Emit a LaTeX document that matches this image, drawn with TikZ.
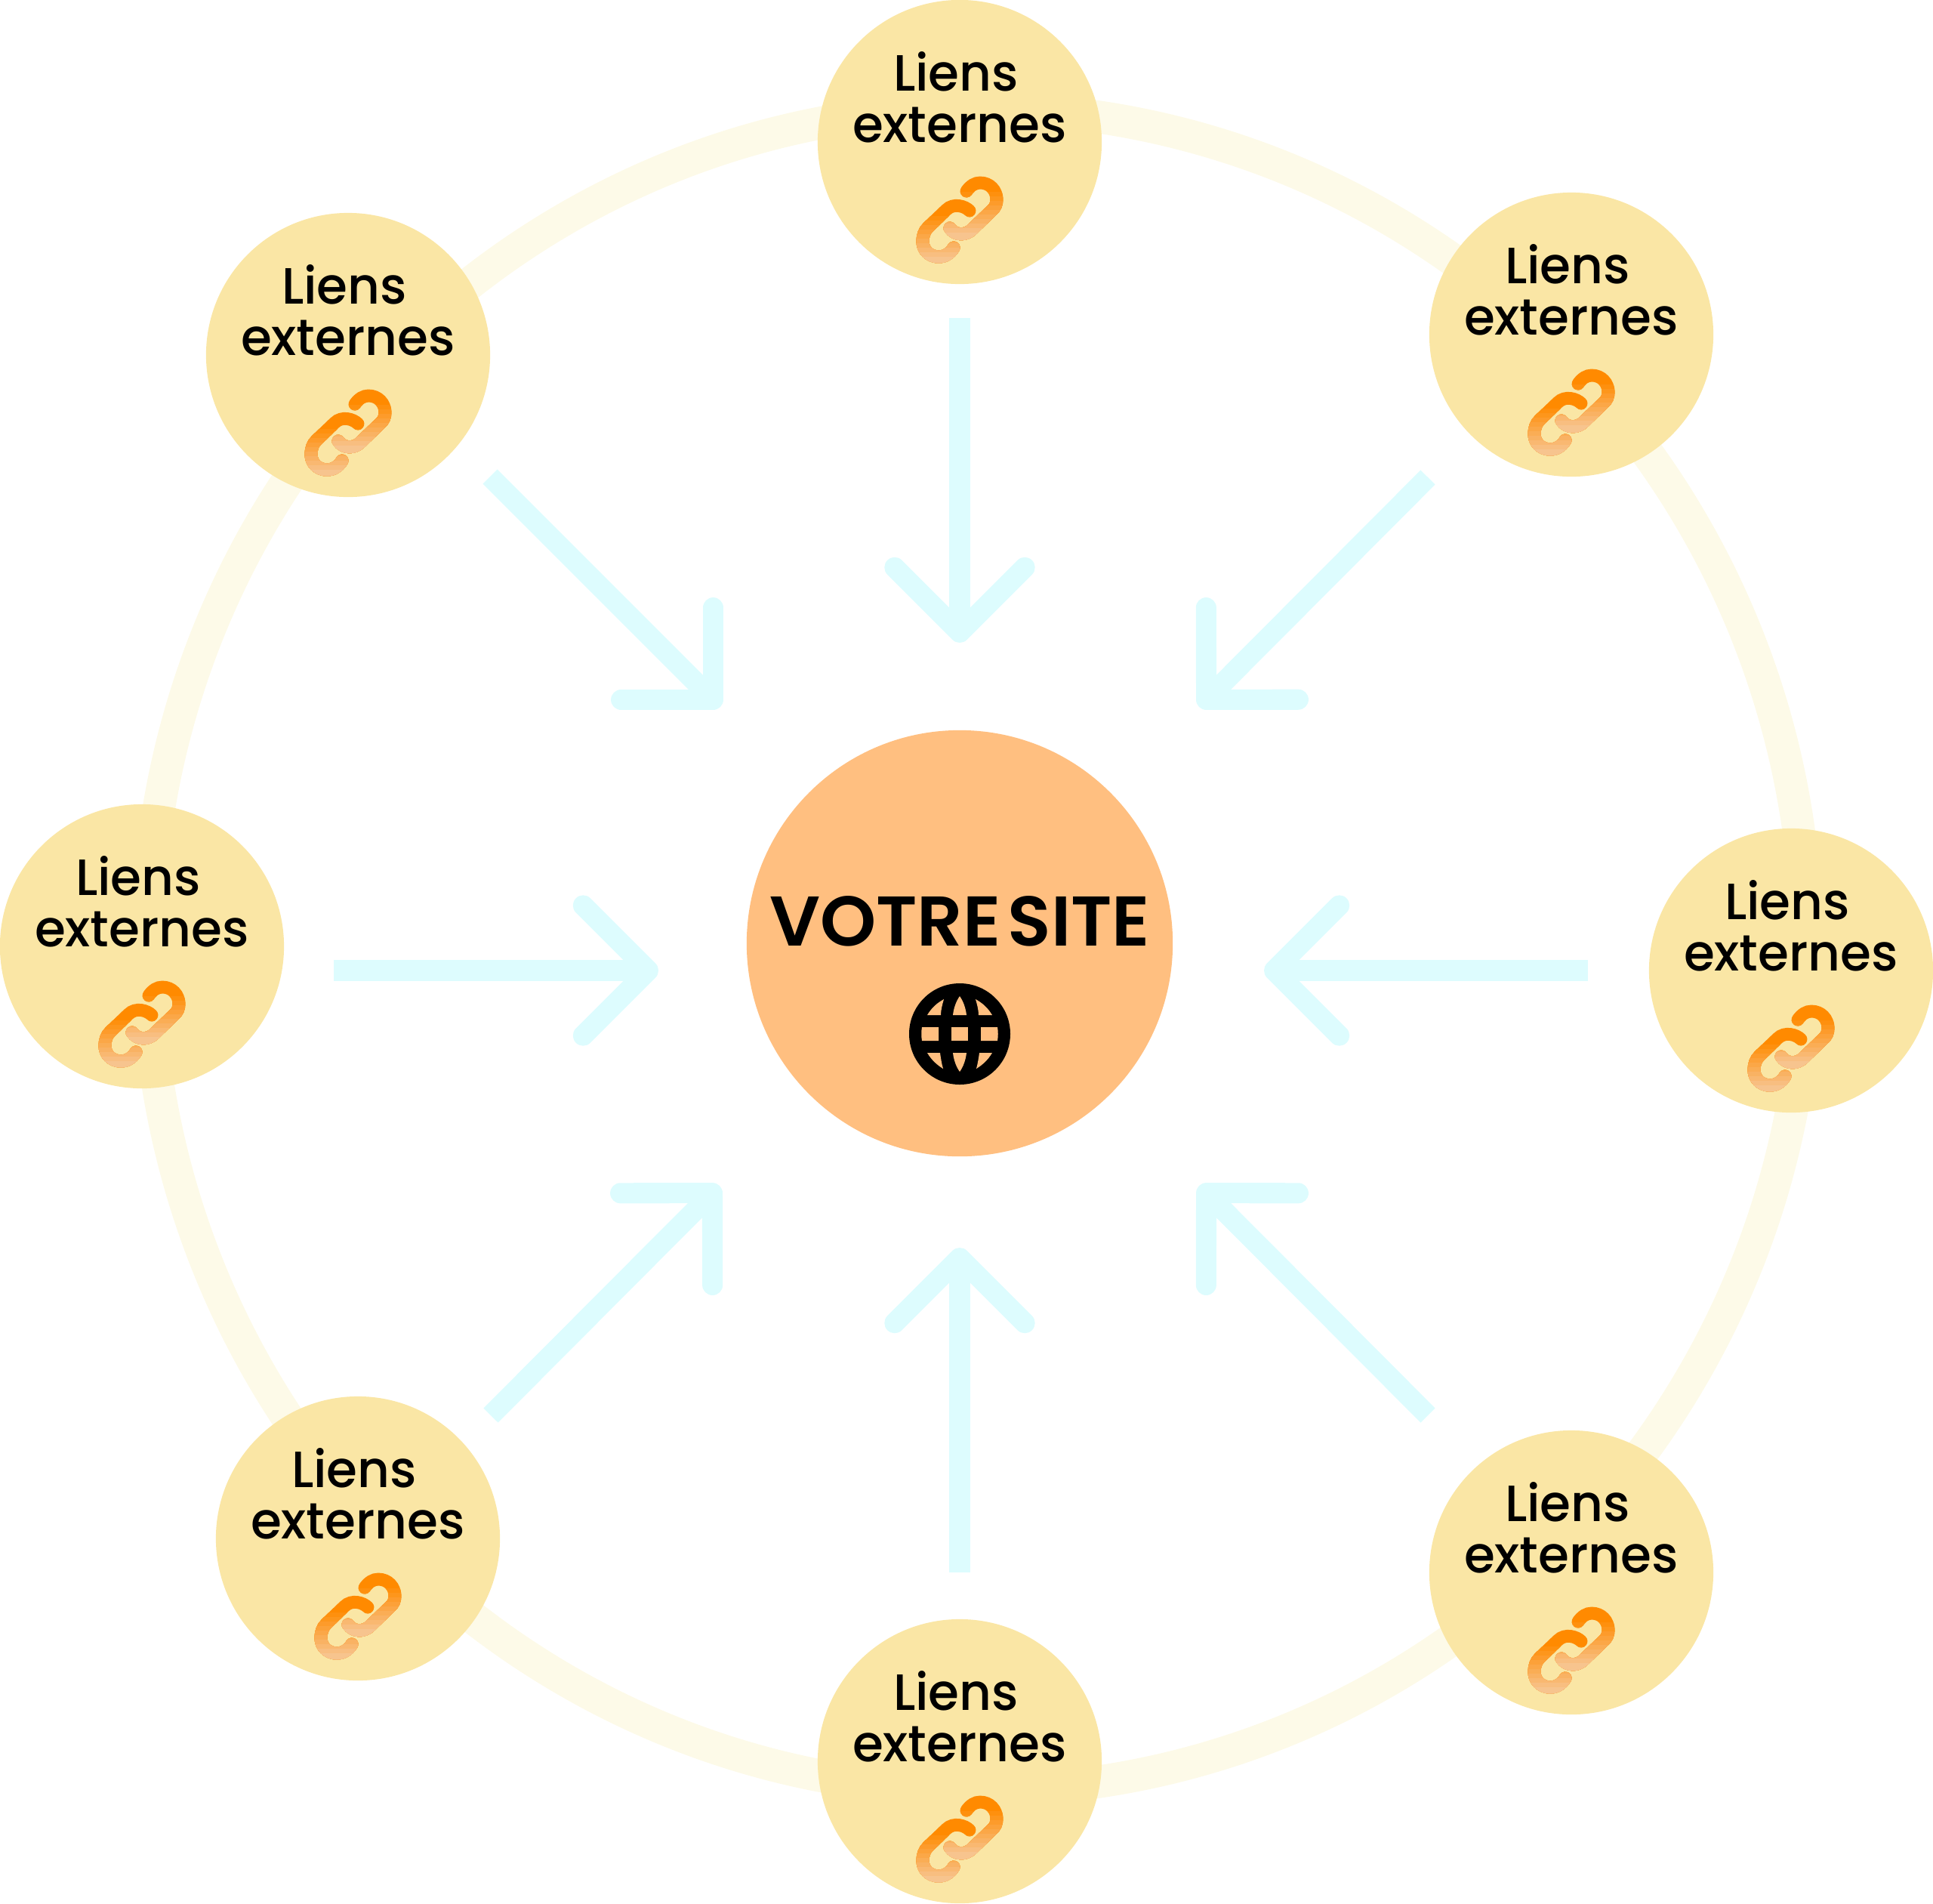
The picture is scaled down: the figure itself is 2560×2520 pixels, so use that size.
\documentclass[tikz,border=0pt]{standalone}
\usepackage{fontspec}
\setmainfont{Poppins}[UprightFont=* Medium,UprightFeatures={FakeStretch=0.98},BoldFont=* SemiBold,BoldFeatures={FakeStretch=1.012}]
\usetikzlibrary{arrows.meta}
\definecolor{ringyellow}{HTML}{FDFAE8}
\definecolor{satyellow}{HTML}{FAE6A5}
\definecolor{siteorange}{HTML}{FFBF80}
\definecolor{arrowcyan}{HTML}{DDFCFE}
\definecolor{linkorange}{HTML}{FF8A00}
\definecolor{linkpale}{HTML}{F7C48E}
\tikzset{
  satnode/.style={circle, fill=satyellow, minimum size=3.76cm, inner sep=0pt},
  sitenode/.style={circle, fill=siteorange, minimum size=5.64cm, inner sep=0pt},
  satlabel/.style={align=center, inner sep=0pt, font=\fontsize{19.2}{19.3}\selectfont},
  sitelabel/.style={inner sep=0pt, font=\fontsize{26.5}{27}\selectfont\bfseries},
  inarrow/.style={arrowcyan, line width=7.7pt, -{Straight Barb[length=24.5pt, width=49pt, round]}},
  linkstroke/.style={line width=4.8pt, line cap=round}
}
% one link of the chain, painted in bands from top to bottom
\newcommand{\linkbands}[2]{%
  \draw[linkstroke, linkorange] #2;
  \foreach \k [evaluate=\k as \p using 100-10*\k] in {1,...,10}{
    \begin{scope}
      \clip (-80,#1+6*\k) rectangle (80,200);
      \draw[linkstroke, linkorange!\p!linkpale] #2;
    \end{scope}
  }}
\newcommand{\chainicon}[2]{%
  \begin{scope}[shift={(#1,#2)}]
    \linkbands{60}{(9,65) .. controls (14,58) and (20,54) .. (27,54) .. controls (40,54) and (49,64) .. (49,76) .. controls (49,82) and (47,87) .. (42,91) -- (16,116) .. controls (8,124) and (-6,124) .. (-13,114)}
    \linkbands{92}{(13,91) .. controls (7,85) and (-8,80) .. (-18,90) -- (-42,113) .. controls (-47,118) and (-49,124) .. (-49,132) .. controls (-49,143) and (-40,152) .. (-28,152) .. controls (-20,152) and (-13,148) .. (-8,140)}
  \end{scope}}
\newcommand{\lienstext}{Liens\kern 2.8pt\\externes}
\begin{document}
\begin{tikzpicture}[x=0.01cm,y=-0.01cm]
\useasboundingbox (0,0) rectangle (2560,2520);
% ring behind everything
\draw[ringyellow, line width=12.3pt] (1294,1257) ellipse [x radius=1099, y radius=1114];
% centre
\node[sitenode] (site) at (1271,1249) {};
\node[sitelabel] (sitetext) at (1271,1220) {VOTRE\kern-3.7pt\ SITE};
\fill (1271,1369) circle [radius=67];
\begin{scope}[shift={(1271,1369)}]
\fill[siteorange] (-11,-9) rectangle (11,9);
\fill[siteorange] (-50,-9) .. controls (-51,-3) and (-51,3) .. (-50,9) -- (-28,9) -- (-28,-9) -- cycle;
\fill[siteorange] (50,-9) .. controls (51,-3) and (51,3) .. (50,9) -- (28,9) -- (28,-9) -- cycle;
\fill[siteorange] (0,-50) .. controls (5,-43) and (8,-34) .. (9,-25) -- (-9,-25) .. controls (-8,-34) and (-5,-43) .. (0,-50) -- cycle;
\fill[siteorange] (0,50) .. controls (5,43) and (8,34) .. (9,25) -- (-9,25) .. controls (-8,34) and (-5,43) .. (0,50) -- cycle;
\fill[siteorange] (-43,-25) .. controls (-37,-35) and (-30,-41) .. (-21,-46) .. controls (-23,-39) and (-25,-32) .. (-25,-25) -- cycle;
\fill[siteorange] (43,-25) .. controls (37,-35) and (30,-41) .. (21,-46) .. controls (23,-39) and (25,-32) .. (25,-25) -- cycle;
\fill[siteorange] (-43,25) .. controls (-37,35) and (-30,41) .. (-22,46) .. controls (-24,39) and (-25,32) .. (-26,25) -- cycle;
\fill[siteorange] (43,25) .. controls (37,35) and (30,41) .. (22,46) .. controls (24,39) and (25,32) .. (26,25) -- cycle;
\end{scope}
% outer circles
\node[satnode] (top) at (1271,188) {};
\node[satnode] (topright) at (2081,443) {};
\node[satnode] (right) at (2372,1285) {};
\node[satnode] (botright) at (2081,2082) {};
\node[satnode] (bot) at (1271,2332) {};
\node[satnode] (botleft) at (474,2037) {};
\node[satnode] (left) at (188,1253) {};
\node[satnode] (topleft) at (461,470) {};
\node[satlabel] (toptext) at (1271,129) {\lienstext};
\node[satlabel] (toprighttext) at (2081,384) {\lienstext};
\node[satlabel] (righttext) at (2372,1226) {\lienstext};
\node[satlabel] (botrighttext) at (2081,2023) {\lienstext};
\node[satlabel] (bottext) at (1271,2273) {\lienstext};
\node[satlabel] (botlefttext) at (474,1978) {\lienstext};
\node[satlabel] (lefttext) at (188,1194) {\lienstext};
\node[satlabel] (toplefttext) at (461,411) {\lienstext};
\chainicon{1271}{188}
\chainicon{2081}{443}
\chainicon{2372}{1285}
\chainicon{2081}{2082}
\chainicon{1271}{2332}
\chainicon{474}{2037}
\chainicon{188}{1253}
\chainicon{461}{470}
% arrows to the centre
\coordinate (a1) at (1271,421);
\coordinate (b1) at (1271,851);
\coordinate (a2) at (1891,632);
\coordinate (b2) at (1588,936);
\coordinate (a3) at (2103,1285);
\coordinate (b3) at (1674,1285);
\coordinate (a4) at (1891,1874);
\coordinate (b4) at (1588,1570);
\coordinate (a5) at (1271,2082);
\coordinate (b5) at (1271,1652);
\coordinate (a6) at (650,1874);
\coordinate (b6) at (953,1570);
\coordinate (a7) at (442,1285);
\coordinate (b7) at (872,1285);
\coordinate (a8) at (649,631);
\coordinate (b8) at (954,936);
\draw[inarrow] (a1) -- (b1);
\draw[inarrow] (a2) -- (b2);
\draw[inarrow] (a3) -- (b3);
\draw[inarrow] (a4) -- (b4);
\draw[inarrow] (a5) -- (b5);
\draw[inarrow] (a6) -- (b6);
\draw[inarrow] (a7) -- (b7);
\draw[inarrow] (a8) -- (b8);
\end{tikzpicture}
\end{document}
